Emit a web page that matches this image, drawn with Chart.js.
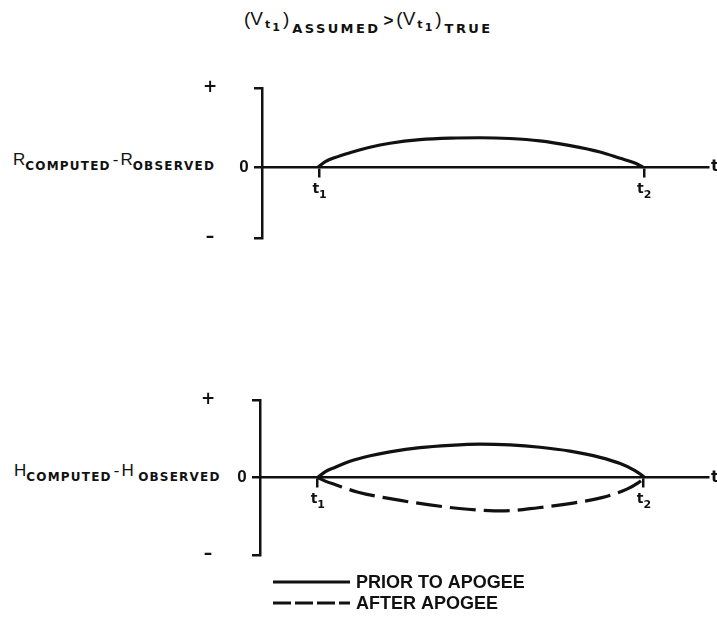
<!DOCTYPE html>
<html>
<head>
<meta charset="utf-8">
<script src="https://cdn.jsdelivr.net/npm/chart.js@4.4.1/dist/chart.umd.min.js"></script>
<style>
  html, body { margin: 0; padding: 0; background: #fff; }
  #page { position: relative; width: 717px; height: 632px; overflow: hidden; background: #fff; color: #111;
          font-family: "Liberation Sans", Arial, sans-serif; }
  .txt { position: absolute; white-space: nowrap; line-height: 20px; }
  .big { font-size: 19px; }
  .mid { font-size: 17px; }
  .sub { font-family: "DejaVu Sans", sans-serif; font-size: 12px; font-weight: bold; letter-spacing: 1.2px;
         position: relative; top: 5px; }
  .tsub { font-family: "DejaVu Sans", sans-serif; font-size: 13px; font-weight: bold; letter-spacing: 2.4px;
          position: relative; top: 8px; }
  .ssub { font-family: "DejaVu Sans", sans-serif; font-size: 11px; font-weight: bold; position: relative; top: 3px; }
  canvas { position: absolute; left: 0; }
</style>
</head>
<body>
<div id="page">
  <div class="txt" style="left:244px; top:9px;">
    <span class="big">(V</span><span class="ssub" style="margin-left:2px">t</span><span class="ssub" style="top:6px; margin-left:2px">1</span><span class="big" style="margin-left:3px">)</span><span class="tsub" style="margin-left:3px">ASSUMED</span><span class="mid" style="position:relative; top:1px; margin:0 3px; font-weight:bold">&gt;</span><span class="big">(V</span><span class="ssub" style="margin-left:2px">t</span><span class="ssub" style="top:6px; margin-left:2px">1</span><span class="big" style="margin-left:3px">)</span><span class="tsub" style="margin-left:3px">TRUE</span>
  </div>
  <div class="txt" style="left:13px; top:150px;">
    <span class="mid">R</span><span class="sub">COMPUTED</span><span class="mid" style="margin:0 2px">-</span><span class="mid">R</span><span class="sub">OBSERVED</span>
  </div>
  <div class="txt" style="left:14px; top:461px;">
    <span class="mid">H</span><span class="sub">COMPUTED</span><span class="mid" style="margin:0 2px">-</span><span class="mid">H</span> <span class="sub">OBSERVED</span>
  </div>
  <canvas id="range-chart" width="717" height="200" style="top:60px"></canvas>
  <canvas id="height-chart" width="717" height="262" style="top:370px"></canvas>
</div>

<script>
/* Residual sketch: computed minus observed, range and height, between t1 and t2. */

const INK = "#111";

const T_MAX = 10;
const T_TICKS = [1.28, 8.56];
const T_TICK_SUBS = ["1", "2"];
const SIGN_LABELS = ["+", "0", "\u2013"];

// range residual, prior to apogee
const RANGE_T = [1.26, 1.43, 1.64, 1.97, 2.42, 2.87, 3.54, 4.22, 4.89, 5.56, 6.23, 6.91, 7.58, 8.03, 8.36, 8.54];
const RANGE_PRIOR = [0, 0.07, 0.12, 0.18, 0.25, 0.30, 0.345, 0.365, 0.37, 0.36, 0.33, 0.27, 0.19, 0.11, 0.05, 0];

// height residual, prior to apogee
const HEIGHT_PRIOR_T = [1.29, 1.47, 1.67, 2.01, 2.46, 2.90, 3.57, 4.24, 4.91, 5.58, 6.25, 6.92, 7.59, 8.04, 8.37, 8.59];
const HEIGHT_PRIOR = [0, 0.08, 0.13, 0.21, 0.28, 0.33, 0.385, 0.415, 0.43, 0.42, 0.39, 0.34, 0.26, 0.18, 0.09, 0];

// height residual, after apogee
const HEIGHT_AFTER_T = [1.29, 1.47, 1.67, 2.19, 2.97, 3.75, 4.64, 5.47, 6.21, 6.99, 7.63, 8.19, 8.44, 8.59];
const HEIGHT_AFTER = [0, -0.05, -0.09, -0.19, -0.28, -0.35, -0.41, -0.43, -0.39, -0.33, -0.26, -0.15, -0.07, 0];

const LABEL_PRIOR = "PRIOR TO APOGEE";
const LABEL_AFTER = "AFTER APOGEE";

const pts = (xs, ys) => xs.map((x, i) => ({ x, y: ys[i] }));

// +, 0, - beside the bracket, t1/t2 under the ticks, the "t" at the axis end, optional key
const panelDecor = {
  id: "panelDecor",
  afterDraw(chart, args, opts) {
    const { ctx, chartArea, scales } = chart;
    const x = scales.x, y = scales.y;
    const y0 = y.getPixelForValue(0);
    ctx.save();
    ctx.fillStyle = INK;
    ctx.textAlign = "center";
    ctx.textBaseline = "middle";
    ctx.font = "bold 17px 'DejaVu Sans'";
    ctx.fillText(SIGN_LABELS[0], chartArea.left - 52, y.getPixelForValue(y.max));
    ctx.fillText(SIGN_LABELS[2], chartArea.left - 52, y.getPixelForValue(y.min));
    ctx.font = "bold 17px 'Liberation Sans'";
    ctx.fillText(SIGN_LABELS[1], chartArea.left - 18, y0);
    ctx.textAlign = "left";
    ctx.font = "bold 16px 'DejaVu Sans'";
    ctx.fillText("t", chartArea.right + 3, y0);

    T_TICKS.forEach((v, i) => {
      const px = x.getPixelForValue(v);
      ctx.font = "bold 14px 'DejaVu Sans'";
      ctx.textAlign = "right";
      ctx.fillText("t", px, y0 + 22);
      ctx.font = "bold 11px 'DejaVu Sans'";
      ctx.textAlign = "left";
      ctx.fillText(T_TICK_SUBS[i], px, y0 + 28);
    });

    if (opts.legend) {
      ctx.font = "bold 18px 'Liberation Sans'";
      ctx.textAlign = "left";
      chart.data.datasets.forEach((ds, i) => {
        const ly = chartArea.bottom + 27 + i * 21;
        const lx = chartArea.left + 13;
        ctx.strokeStyle = INK;
        ctx.lineWidth = 3;
        ctx.setLineDash(ds.borderDash ? [18, 4] : []);
        ctx.beginPath();
        ctx.moveTo(lx, ly);
        ctx.lineTo(lx + 77, ly);
        ctx.stroke();
        ctx.fillText(ds.label, lx + 83, ly + 1);
      });
    }
    ctx.restore();
  },
};

function makePanel(id, datasets, yMin, pad, legend) {
  return new Chart(document.getElementById(id), {
    type: "line",
    data: { datasets },
    plugins: [panelDecor],
    options: {
      responsive: false,
      animation: false,
      layout: { padding: pad },
      plugins: { legend: { display: false }, tooltip: { enabled: false }, panelDecor: { legend } },
      elements: {
        point: { radius: 0 },
        line: { borderWidth: 3.2, borderColor: INK, cubicInterpolationMode: "monotone" },
      },
      scales: {
        x: {
          type: "linear",
          position: { y: 0 },
          min: 0,
          max: T_MAX,
          afterBuildTicks: (s) => { s.ticks = T_TICKS.map((v) => ({ value: v })); },
          ticks: { display: false },
          grid: { drawOnChartArea: false, drawTicks: true, tickLength: 9, color: INK, lineWidth: 2.5 },
          border: { display: true, color: INK, width: 2.5 },
        },
        y: {
          type: "linear",
          min: yMin,
          max: 1,
          afterBuildTicks: (s) => { s.ticks = [yMin, 0, 1].map((v) => ({ value: v })); },
          afterFit: (s) => { s.width = 10; },
          ticks: { display: false },
          grid: { drawOnChartArea: false, drawTicks: true, tickLength: 8, color: INK, lineWidth: 2.5 },
          border: { display: true, color: INK, width: 2.5 },
        },
      },
    },
  });
}

makePanel("range-chart", [
  { label: LABEL_PRIOR, data: pts(RANGE_T, RANGE_PRIOR) },
], -0.9, { top: 28, bottom: 22, left: 252, right: 9 }, false);

makePanel("height-chart", [
  { label: LABEL_PRIOR, data: pts(HEIGHT_PRIOR_T, HEIGHT_PRIOR) },
  { label: LABEL_AFTER, data: pts(HEIGHT_AFTER_T, HEIGHT_AFTER), borderDash: [26, 8] },
], -1, { top: 30, bottom: 77, left: 250, right: 9 }, true);
</script>
</body>
</html>
